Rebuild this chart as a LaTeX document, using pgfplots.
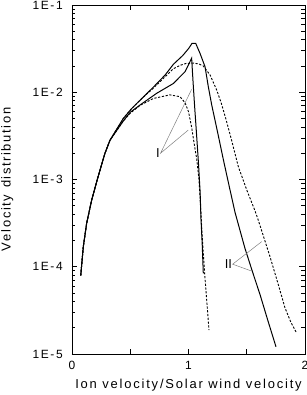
\documentclass[border=0pt]{standalone}
\usepackage{pgfplots}
\pgfplotsset{compat=1.18}
\usepackage{fontspec}
\setmainfont{Liberation Sans}
\newfontfamily\lsfont[LetterSpace=14]{Liberation Sans}
\def\k{\kern1.6bp}
\begin{document}
\begin{tikzpicture}
\useasboundingbox (-72bp,-41bp) rectangle (235bp,354bp);
\begin{axis}[
  at={(0,0)}, anchor=south west,
  scale only axis, width=233bp, height=349bp,
  xmin=0, xmax=2, ymin=1e-5, ymax=1e-1, ymode=log,
  axis line style={line width=0.7bp},
  xtick={0,0.5,1,1.5,2}, xticklabels={0,,1,,2},
  ytick={1e-5,1e-4,1e-3,1e-2,1e-1},
  yticklabels={1E-5,1E-4,1E-3,1E-2,1E-1},
  tick align=inside, major tick length=5.5bp, minor tick length=3.5bp,
  tick style={black, line width=0.6bp},
  xtick pos=both, ytick pos=both,
  ticklabel style={font=\lsfont\fontsize{12}{14}\selectfont},
  yticklabel style={anchor=east, inner sep=0pt, xshift=-9bp},
  xticklabel style={anchor=north, inner sep=0pt, yshift=-7bp},
  xlabel={Ion velocity/Solar wind velocity},
  label style={font=\lsfont\fontsize{13}{15}\selectfont},
  xlabel style={at={(axis description cs:0.5,0)}, anchor=north, inner sep=0pt, yshift=-25bp},
  clip=false,
]
% curve A (solid, II)
\addplot[black, line width=1bp] coordinates {
(0.075,7.94e-5)(0.097,1.70e-4)(0.126,3.16e-4)(0.169,5.82e-4)(0.217,1.0e-3)(0.283,2.0e-3)(0.326,2.82e-3)(0.44,5.0e-3)
(0.51,6.46e-3)(0.6,8.5e-3)(0.7,1.15e-2)(0.8,1.58e-2)(0.87,2.09e-2)(0.95,2.63e-2)(1.0,3.16e-2)(1.03,3.63e-2)(1.062,3.63e-2)
(1.099,2.79e-2)(1.142,1.96e-2)(1.17,1.16e-2)(1.2,7.08e-3)(1.25,3.47e-3)(1.30,1.67e-3)(1.35,8.3e-4)(1.40,4.17e-4)
(1.485,1.62e-4)(1.55,8.7e-5)(1.614,4.8e-5)(1.68,2.45e-5)(1.751,1.21e-5)};
% curve B (dashed, II)
\addplot[black, line width=0.9bp, dash pattern=on 2.2bp off 1.6bp] coordinates {
(0.075,7.94e-5)(0.097,1.70e-4)(0.126,3.16e-4)(0.169,5.82e-4)(0.217,1.0e-3)(0.283,2.0e-3)(0.326,2.82e-3)(0.44,5.0e-3)
(0.51,6.46e-3)(0.6,8.5e-3)(0.7,1.12e-2)(0.8,1.51e-2)(0.87,1.86e-2)(0.93,2.04e-2)(0.98,2.14e-2)(1.04,2.16e-2)(1.09,2.11e-2)
(1.127,2.0e-2)(1.185,1.58e-2)(1.242,1.06e-2)(1.28,7.6e-3)(1.32,5.0e-3)(1.37,2.82e-3)(1.428,1.40e-3)(1.5,7.6e-4)
(1.571,4.37e-4)(1.6,3.39e-4)(1.7,1.30e-4)(1.77,6.3e-5)(1.828,3.39e-5)(1.88,2.29e-5)(1.929,1.73e-5)};
% curve C (solid, I)
\addplot[black, line width=1bp] coordinates {
(0.075,7.94e-5)(0.097,1.70e-4)(0.126,3.16e-4)(0.169,5.82e-4)(0.217,1.0e-3)(0.283,2.0e-3)(0.326,2.82e-3)(0.44,4.68e-3)
(0.5,5.9e-3)(0.584,7.14e-3)(0.727,9.73e-3)(0.87,1.26e-2)(0.97,1.72e-2)(1.027,2.45e-2)(1.04,1.26e-2)(1.052,7.08e-3)
(1.07,3.16e-3)(1.085,1.58e-3)(1.1,7.08e-4)(1.107,3.59e-4)(1.118,1.78e-4)(1.127,8.4e-5)};
% curve D (dashed, I)
\addplot[black, line width=0.9bp, dash pattern=on 2.2bp off 1.6bp] coordinates {
(0.075,7.94e-5)(0.097,1.70e-4)(0.126,3.16e-4)(0.169,5.82e-4)(0.217,1.0e-3)(0.283,2.0e-3)(0.326,2.82e-3)(0.44,4.68e-3)
(0.5,5.75e-3)(0.584,7.08e-3)(0.70,8.5e-3)(0.84,9.33e-3)(0.927,8.9e-3)(0.97,7.6e-3)(1.0,6.0e-3)(1.027,3.98e-3)
(1.05,2.51e-3)(1.07,1.74e-3)(1.09,1.0e-3)(1.105,4.47e-4)(1.12,2.0e-4)(1.14,7.94e-5)(1.176,1.88e-5)};
% pointer lines
\addplot[gray, line width=0.5bp] coordinates {(1.027,1.08e-2)(0.76,2.0e-3)(0.998,3.69e-3)};
\addplot[gray, line width=0.5bp] coordinates {(1.628,1.94e-4)(1.379,1.07e-4)(1.534,9.0e-5)};
\node[font=\fontsize{13}{15}\selectfont, anchor=east, inner sep=0.5bp] at (axis cs:0.76,2.0e-3) {I};
\node[font=\fontsize{13}{15}\selectfont, anchor=east, inner sep=0.5bp] at (axis cs:1.379,1.07e-4) {II};
\end{axis}
\node[font=\fontsize{13}{15}\selectfont, rotate=90, anchor=north, inner sep=0pt] at (-71bp,174.5bp) {V\k e\k l\k o\k c\k i\k t\k y\k\ \k d\k i\k s\k t\k r\k i\k b\k u\k t\k i\k o\k n};
\end{tikzpicture}
\end{document}
